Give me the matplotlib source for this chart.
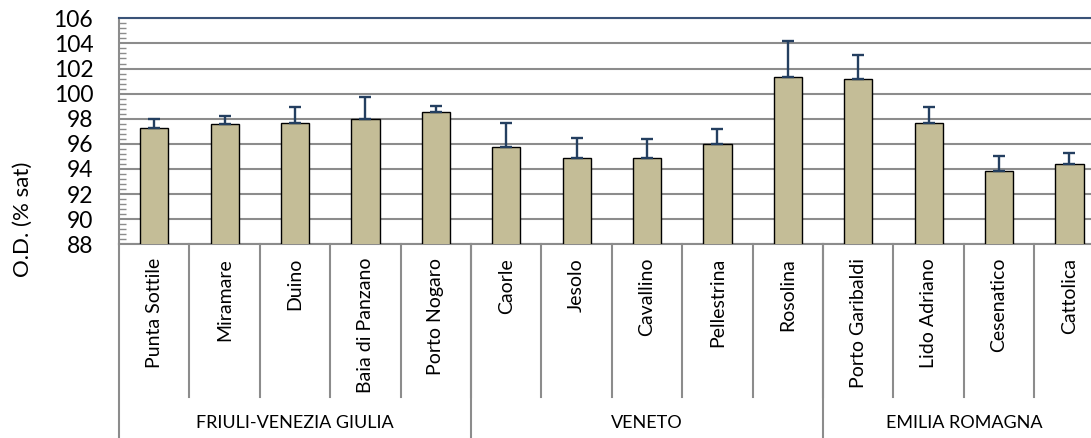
import numpy as np
import matplotlib
matplotlib.use("Agg")
import matplotlib.pyplot as plt
from matplotlib.ticker import MultipleLocator
import matplotlib.transforms as mtransforms

plt.rcParams['font.family'] = ['Lato', 'DejaVu Sans']

sites = ["Punta Sottile", "Miramare", "Duino", "Baia di Panzano", "Porto Nogaro",
         "Caorle", "Jesolo", "Cavallino", "Pellestrina", "Rosolina",
         "Porto Garibaldi", "Lido Adriano", "Cesenatico", "Cattolica"]
od_mean = [97.25, 97.6, 97.65, 98.0, 98.5,
           95.75, 94.85, 94.85, 96.0, 101.35,
           101.15, 97.7, 93.8, 94.4]
od_err = [0.75, 0.6, 1.3, 1.75, 0.5,
          1.9, 1.65, 1.55, 1.2, 2.85,
          1.9, 1.25, 1.2, 0.9]
regions = ["FRIULI-VENEZIA GIULIA", "VENETO", "EMILIA ROMAGNA"]
region_size = [5, 5, 4]

fig = plt.figure(figsize=(10.91, 4.38), dpi=100)
# plot area runs past the right edge of the figure
ax = fig.add_axes([0.1091, 0.4422, 0.9034, 0.516])

x = np.arange(len(sites))
ax.bar(x, od_mean, width=0.4, color="#C4BD97", edgecolor="black", linewidth=1.0, zorder=3)
ax.errorbar(x, od_mean, yerr=[np.zeros(len(x)), od_err], fmt="none",
            ecolor="#243F60", elinewidth=1.7, capsize=4.5, capthick=1.7, zorder=4)

ax.set_xlim(-0.5, len(sites) - 0.5)
ax.set_ylim(88, 106)
ax.yaxis.set_major_locator(MultipleLocator(2))
ax.yaxis.set_minor_locator(MultipleLocator(0.4))
ax.grid(axis="y", color="#8C8C8C", linewidth=1.5, zorder=0)
ax.tick_params(axis="y", which="major", length=0, labelsize=16.5, pad=18.5)
ax.tick_params(axis="y", which="minor", direction="in", length=5, width=1, color="#8C8C8C")
ax.set_xticks([])

for s in ["left", "bottom"]:
    ax.spines[s].set_color("#8C8C8C")
    ax.spines[s].set_linewidth(1.5)
ax.spines["top"].set_color("#3A5378")
ax.spines["top"].set_linewidth(1.5)
ax.spines["right"].set_visible(False)

ax.set_ylabel("O.D. (% sat)", fontsize=16)
ax.yaxis.set_label_coords(-0.087, 0.11)

# two-level category axis below the plot
trans = mtransforms.blended_transform_factory(ax.transData, ax.transAxes)
for i, name in enumerate(sites):
    ax.text(i, -0.06, name, rotation=90, ha="center", va="top", fontsize=14,
            transform=trans)
for i in range(len(sites) - 1):
    ax.plot([i + 0.5, i + 0.5], [0, -0.676], color="#8C8C8C", linewidth=1.5,
            transform=trans, clip_on=False)

start = -0.5
for name, n in zip(regions, region_size):
    end = start + n
    ax.plot([start, start], [0, -1.0], color="#8C8C8C", linewidth=1.5,
            transform=trans, clip_on=False)
    ax.text((start + end) / 2, -0.79, name, ha="center", va="center", fontsize=13,
            transform=trans)
    start = end

fig.savefig("out.png", dpi=100)
